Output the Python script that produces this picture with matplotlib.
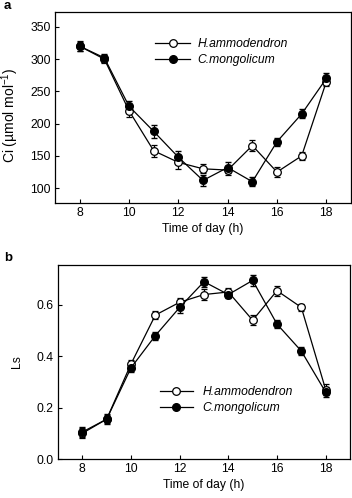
import matplotlib
matplotlib.use("Agg")
import matplotlib.pyplot as plt
from matplotlib.lines import Line2D

plt.rcParams['font.family'] = ['Liberation Sans', 'DejaVu Sans']
plt.rcParams['mathtext.fontset'] = 'custom'
plt.rcParams['mathtext.rm'] = 'Liberation Sans'
fs = 8.7

# time of day (h)
hours = [8, 9, 10, 11, 12, 13, 14, 15, 16, 17, 18]

# Ci (umol mol-1)
ci_h = [320, 300, 220, 158, 140, 130, 128, 166, 125, 150, 265]
ci_h_err = [8, 6, 9, 9, 10, 7, 7, 8, 8, 6, 7]
ci_c = [320, 302, 227, 188, 148, 112, 132, 110, 172, 215, 270]
ci_c_err = [7, 6, 8, 10, 9, 9, 8, 7, 6, 7, 8]

# Ls
ls_h = [0.10, 0.155, 0.37, 0.56, 0.61, 0.64, 0.65, 0.54, 0.655, 0.59, 0.27]
ls_h_err = [0.02, 0.015, 0.015, 0.015, 0.015, 0.02, 0.015, 0.02, 0.02, 0.015, 0.02]
ls_c = [0.105, 0.155, 0.355, 0.48, 0.59, 0.69, 0.64, 0.695, 0.525, 0.42, 0.26]
ls_c_err = [0.02, 0.02, 0.015, 0.015, 0.02, 0.02, 0.015, 0.02, 0.015, 0.015, 0.02]

fig = plt.figure(figsize=(3.52, 4.98), dpi=100)
ax1 = fig.add_axes([55/352, 1 - 203/498, 296/352, 191/498])
ax2 = fig.add_axes([58/352, 1 - 459/498, 292/352, 194/498])

handles = [Line2D([], [], color='black', lw=0.9, marker='o', ms=5.5, mfc='white', mec='black', mew=0.9),
           Line2D([], [], color='black', lw=0.9, marker='o', ms=5.5, mfc='black', mec='black')]
names = ['H.ammodendron', 'C.mongolicum']

def draw(ax, yh, eh, yc, ec):
    ax.errorbar(hours, yh, yerr=eh, color='black', lw=0.9, marker='o', ms=5.5,
                mfc='white', mec='black', mew=0.9, capsize=2, elinewidth=0.9, zorder=3)
    ax.errorbar(hours, yc, yerr=ec, color='black', lw=0.9, marker='o', ms=5.5,
                mfc='black', mec='black', capsize=2, elinewidth=0.9, zorder=3)
    ax.set_xlim(7, 19)
    ax.set_xticks([8, 10, 12, 14, 16, 18])
    ax.tick_params(direction='in', length=3, width=0.8, labelsize=fs, pad=3)
    for s in ax.spines.values():
        s.set_linewidth(0.9)
    ax.set_xlabel('Time of day (h)', fontsize=fs, labelpad=3)

draw(ax1, ci_h, ci_h_err, ci_c, ci_c_err)
ax1.set_ylim(77, 373)
ax1.set_yticks([100, 150, 200, 250, 300, 350])
ax1.set_ylabel('Ci (\u00b5mol mol$^{\u22121}$)', fontsize=10)
ax1.yaxis.set_label_coords(-0.115, 0.46)
ax1.legend(handles, names, loc='upper left', bbox_to_anchor=(0.338, 0.864), frameon=False,
           borderpad=0, borderaxespad=0, handlelength=2.9, handletextpad=0.6,
           labelspacing=0.35, prop={'style': 'italic', 'size': fs})

draw(ax2, ls_h, ls_h_err, ls_c, ls_c_err)
ax2.set_ylim(0, 0.755)
ax2.set_yticks([0.0, 0.2, 0.4, 0.6])
ax2.set_yticklabels(['0.0', '0.2', '0.4', '0.6'])
ax2.set_ylabel('Ls', fontsize=fs)
ax2.yaxis.set_label_coords(-0.12, 0.5)
ax2.legend(handles, names, loc='upper left', bbox_to_anchor=(0.349, 0.376), frameon=False,
           borderpad=0, borderaxespad=0, handlelength=2.7, handletextpad=0.8,
           labelspacing=0.35, prop={'style': 'italic', 'size': fs})

fig.text(4/352, 1 - 6/498, 'a', fontsize=9.5, fontweight='bold', va='center')
fig.text(4/352, 1 - 258/498, 'b', fontsize=9.5, fontweight='bold', va='center')

fig.savefig('out.png', dpi=100)
